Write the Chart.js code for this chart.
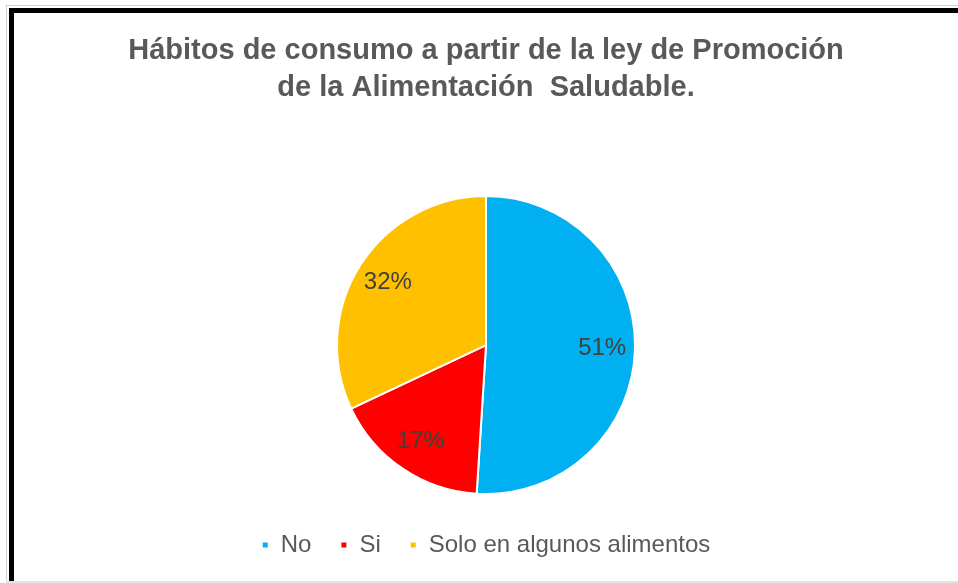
<!DOCTYPE html>
<html>
<head>
<meta charset="utf-8">
<script src="https://cdn.jsdelivr.net/npm/chart.js@4"></script>
<style>
  html, body { margin: 0; padding: 0; background: #fff; overflow: hidden; width: 958px; height: 583px; }
  .gray-left { position: absolute; left: 6px; top: 5px; width: 1px; height: 578px; background: #cfcfcf; }
  .gray-top { position: absolute; left: 6px; top: 5px; right: 0; height: 1px; background: #cfcfcf; }
  .gray-bottom { position: absolute; left: 6px; top: 581px; right: 0; height: 2px; background: #e3e3e3; z-index: 2; }
  .frame { position: absolute; left: 9px; top: 8px; right: 0; height: 600px; border-left: 5px solid #000; border-top: 5px solid #000; }
  .wrap { position: absolute; left: 14px; top: 13px; width: 944px; height: 554px; }
</style>
</head>
<body>
<div class="gray-left"></div>
<div class="gray-top"></div>
<div class="frame"></div>
<div class="wrap"><canvas id="myChart"></canvas></div>
<div class="gray-bottom"></div>
<script>
const categories = ['No', 'Si', 'Solo en algunos alimentos'];
const percentages = [51, 17, 32];
const sliceColors = ['#00B0F0', '#FF0000', '#FFC000'];
const titleLines = ['Hábitos de consumo a partir de la ley de Promoción', 'de la Alimentación  Saludable.'];

// percentage labels inside each slice
const sliceLabels = {
  id: 'sliceLabels',
  afterDatasetsDraw(chart) {
    const ctx = chart.ctx;
    const meta = chart.getDatasetMeta(0);
    ctx.save();
    ctx.font = '24px "Liberation Sans", Arial, sans-serif';
    ctx.fillStyle = '#404040';
    ctx.textAlign = 'center';
    ctx.textBaseline = 'middle';
    meta.data.forEach((arc, i) => {
      const p = arc.getProps(['x', 'y', 'startAngle', 'endAngle', 'outerRadius'], true);
      const mid = (p.startAngle + p.endAngle) / 2;
      const r = p.outerRadius * 0.78;
      ctx.fillText(percentages[i] + '%', p.x + Math.cos(mid) * r, p.y + Math.sin(mid) * r);
    });
    ctx.restore();
  }
};

const chart1 = document.getElementById('myChart');

new Chart(chart1, {
  type: 'pie',
  data: {
    labels: categories,
    datasets: [{
      data: percentages,
      backgroundColor: sliceColors,
      borderColor: '#ffffff',
      borderWidth: 2,
      radius: 149
    }]
  },
  options: {
    responsive: true,
    maintainAspectRatio: false,
    animation: false,
    plugins: {
      title: {
        display: true,
        text: titleLines,
        color: '#595959',
        font: { family: '"Liberation Sans", Arial, sans-serif', size: 29, weight: 'bold', lineHeight: 1.28 },
        padding: { top: 19, bottom: 80 }
      },
      legend: {
        position: 'bottom',
        labels: {
          boxWidth: 7,
          boxHeight: 7,
          padding: 29,
          color: '#595959',
          font: { family: '"Liberation Sans", Arial, sans-serif', size: 24 }
        }
      },
      tooltip: { enabled: false }
    }
  },
  plugins: [sliceLabels]
});
</script>
</body>
</html>
